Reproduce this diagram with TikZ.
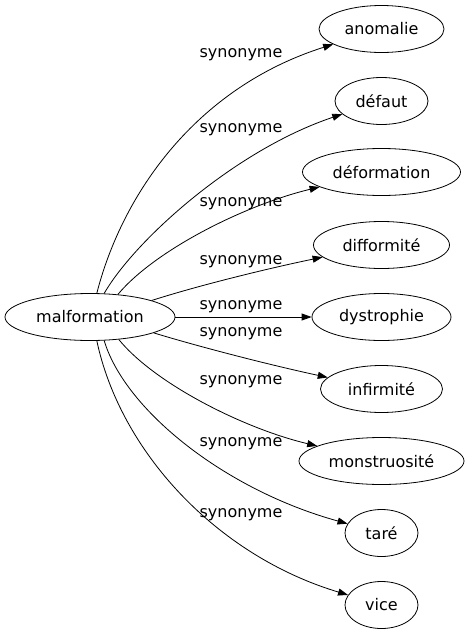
\documentclass[tikz,border=0pt]{standalone}
\usepackage{fontspec}
\setmainfont{DejaVu Sans}
\usetikzlibrary{shapes.geometric,arrows.meta}
\tikzset{
  word/.style={ellipse,draw,line width=0.8pt,inner sep=0pt,minimum height=47pt,font=\fontsize{16}{19}\selectfont},
  rel/.style={font=\fontsize{16}{19}\selectfont,inner sep=0pt},
  link/.style={line width=0.8pt,-{Triangle[length=10pt,width=7pt]}}
}
\begin{document}
\begin{tikzpicture}[x=1pt,y=-1pt]
\useasboundingbox (0,0) rectangle (469,635);
\node[word,minimum width=170pt] (m) at (90,317) {malformation};
\node[word,minimum width=125pt] (n1) at (381.5,29) {anomalie};
\node[word,minimum width=93pt] (n2) at (381.5,101) {défaut};
\node[word,minimum width=158pt] (n3) at (381.5,172) {déformation};
\node[word,minimum width=136pt] (n4) at (381.5,245) {difformité};
\node[word,minimum width=139pt] (n5) at (381.5,317) {dystrophie};
\node[word,minimum width=122pt] (n6) at (381.5,389) {infirmité};
\node[word,minimum width=165pt] (n7) at (381.5,461) {monstruosité};
\node[word,minimum width=73pt] (n8) at (381.5,533) {taré};
\node[word,minimum width=73pt] (n9) at (381.5,605) {vice};
\node[rel] (l1) at (241,55) {synonyme};
\node[rel] (l2) at (241,130) {synonyme};
\node[rel] (l3) at (241,204) {synonyme};
\node[rel] (l4) at (241,262) {synonyme};
\node[rel] (l5) at (241,307) {synonyme};
\node[rel] (l6) at (241,334) {synonyme};
\node[rel] (l7) at (241,382) {synonyme};
\node[rel] (l8) at (241,444) {synonyme};
\node[rel] (l9) at (241,515) {synonyme};
\draw[link] (m.74) .. controls (122,195) and (195,88) .. (n1);
\draw[link] (m.59) .. controls (135,240) and (235,150) .. (n2);
\draw[link] (m.39) .. controls (155,250) and (245,205) .. (n3);
\draw[link] (m.15) .. controls (200,285) and (270,268) .. (n4);
\draw[link] (m) -- (n5);
\draw[link] (m.-14) .. controls (200,347) and (270,365) .. (n6);
\draw[link] (m.-38) .. controls (155,384) and (245,429) .. (n7);
\draw[link] (m.-59) .. controls (125,410) and (225,490) .. (n8);
\draw[link] (m.-74) .. controls (120,450) and (215,555) .. (n9);
\end{tikzpicture}
\end{document}
